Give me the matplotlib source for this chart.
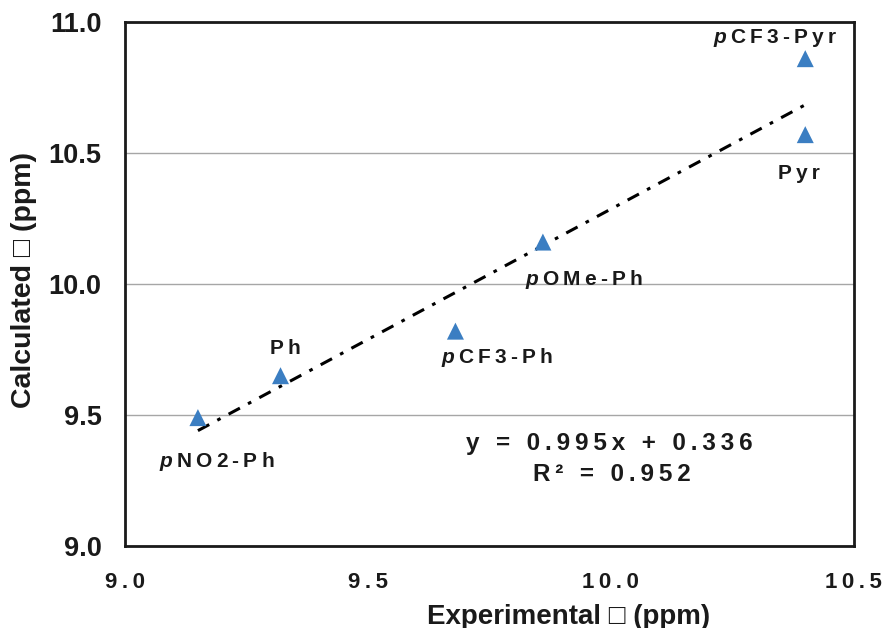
import numpy as np
import matplotlib
matplotlib.use("Agg")
import matplotlib.pyplot as plt

plt.rcParams['font.family'] = ['Liberation Sans', 'DejaVu Sans']
plt.rcParams['font.weight'] = 'bold'
plt.rcParams['mathtext.fontset'] = 'custom'
plt.rcParams['mathtext.it'] = 'Liberation Sans:italic:bold'
plt.rcParams['mathtext.rm'] = 'Liberation Sans:bold'

# Data
names = ["pNO2-Ph", "Ph", "pCF3-Ph", "pOMe-Ph", "Pyr", "pCF3-Pyr"]
experimental = [9.15, 9.32, 9.68, 9.86, 10.40, 10.40]
calculated = [9.49, 9.65, 9.82, 10.16, 10.57, 10.86]

# fitted trend line (from reference equation)
slope = 0.995
intercept = 0.336
r2 = 0.952

# label positions (data coords) for each compound
label_x = [9.189, 9.329, 9.765, 9.944, 10.387, 10.337]
label_y = [9.321, 9.752, 9.718, 10.019, 10.420, 10.939]

xticks = [9.0, 9.5, 10.0, 10.5]
yticks = [9.0, 9.5, 10.0, 10.5, 11.0]

GAP = "\u2009"


def spaced(s):
    return GAP.join(s).replace(GAP + " " + GAP, " " + GAP)


def label_text(name):
    if name.startswith("p"):
        return r"$\it{p}$" + GAP + spaced(name[1:])
    return spaced(name)


fig = plt.figure(figsize=(8.83, 6.28), dpi=100)
ax = fig.add_axes([0.1416, 0.1306, 0.8254, 0.8344])

ax.set_xlim(9.0, 10.5)
ax.set_ylim(9.0, 11.0)
ax.set_xticks(xticks)
ax.set_yticks(yticks)
ax.set_xticklabels([spaced(f"{v:.1f}") for v in xticks])
ax.set_yticklabels([f"{v:.1f}" for v in yticks])
ax.tick_params(axis="x", length=0, labelsize=16, pad=19, labelcolor="#1a1a1a")
ax.tick_params(axis="y", length=0, labelsize=19.5, pad=17, labelcolor="#1a1a1a")
ax.yaxis.grid(True, color="#a6a6a6", linewidth=1.0)
ax.set_axisbelow(True)
for sp in ax.spines.values():
    sp.set_linewidth(2.0)
    sp.set_color("#1a1a1a")

# trend line
xs = np.array([min(experimental), max(experimental)])
ax.plot(xs, slope * xs + intercept, color="black", linewidth=2.2,
        dashes=[4.2, 3.0, 1.2, 3.0], dash_capstyle="butt", zorder=3)

ax.scatter(experimental, calculated, marker="^", s=150, color="#3b7ec2",
           edgecolors="none", zorder=4)

for n, lx, ly in zip(names, label_x, label_y):
    ax.text(lx, ly, label_text(n), ha="center", va="center", fontsize=15,
            fontweight="bold", color="#1a1a1a")

eq = spaced(f"y = {slope}x + {intercept}").replace(" ", GAP + " ")
r2_txt = spaced(f"R² = {r2}").replace(" ", GAP + " ")
ax.text(9.996, 9.393, eq, ha="center", va="center", fontsize=17.5,
        fontweight="bold", color="#1a1a1a")
ax.text(10.002, 9.271, r2_txt, ha="center", va="center", fontsize=17.5,
        fontweight="bold", color="#1a1a1a")

ax.set_xlabel("Experimental \u25a1 (ppm)", fontsize=20, fontweight="bold",
              color="#1a1a1a")
ax.set_ylabel("Calculated \u25a1 (ppm)", fontsize=20.5, fontweight="bold",
              color="#1a1a1a")
ax.xaxis.set_label_coords(0.608, -0.11)
ax.yaxis.set_label_coords(-0.121, 0.508)

fig.savefig("out.png", dpi=100)
